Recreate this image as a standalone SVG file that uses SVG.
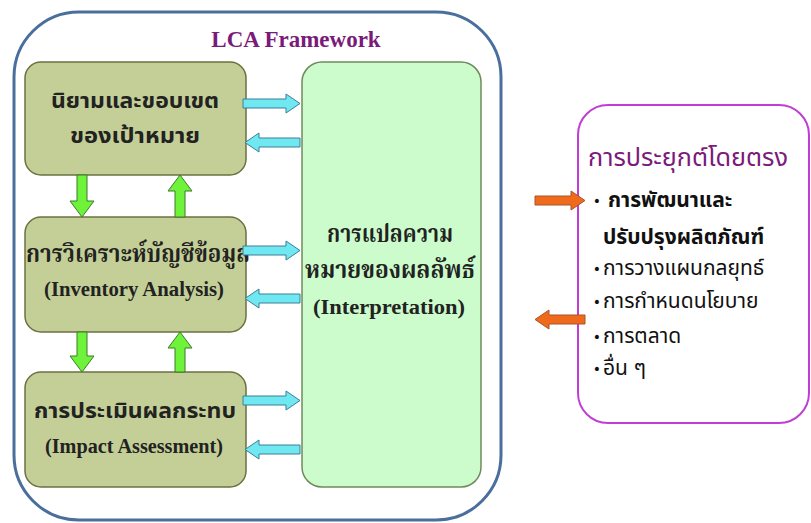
<svg xmlns="http://www.w3.org/2000/svg" width="811" height="523" viewBox="0 0 811 523">
  <style>
    .frame { fill: #ffffff; stroke: #4a6f9c; stroke-width: 3; }
    .stage { fill: #c4cf97; stroke: #6b7142; stroke-width: 1.5; }
    .interp { fill: #ccfccb; stroke: #6f8a5e; stroke-width: 1.5; }
    .apply { fill: #ffffff; stroke: #c03ed4; stroke-width: 2; }
    .cyan { fill: #6fe8f2; stroke: #3a7f96; stroke-width: 1; }
    .green { fill: #6ef23a; stroke: #3c7a28; stroke-width: 1; }
    .orange { fill: #f06a1c; stroke: #a8542a; stroke-width: 1; }
    .title { font-family: "Liberation Serif", serif; font-weight: bold; font-size: 23px; fill: #7a1a7a; }
    .thsans { font-family: "Noto Sans Thai", "Tahoma", "DejaVu Sans", sans-serif; font-weight: bold; font-size: 22px; fill: #222; }
    .thserif { font-family: "Noto Serif Thai", "Liberation Serif", serif; font-weight: bold; font-size: 24px; fill: #222; }
    .en { font-family: "Liberation Serif", serif; font-weight: bold; font-size: 20px; fill: #222; }
    .apptitle { font-family: "Noto Sans Thai", "Tahoma", "DejaVu Sans", sans-serif; font-size: 24px; fill: #7a1a7a; }
    .item { font-family: "Noto Sans Thai", "Tahoma", "DejaVu Sans", sans-serif; font-size: 21px; fill: #111; }
    .item-b { font-weight: bold; }
    .dot { font-family: "DejaVu Sans", sans-serif; font-size: 14px; fill: #111; }
  </style>

  <!-- outer framework boundary -->
  <g id="framework">
    <rect class="frame" x="14" y="12" width="487" height="508" rx="65"/>
    <text class="title" x="296" y="47" text-anchor="middle">LCA Framework</text>
  </g>

  <g id="goal-scope">
    <rect class="stage" x="25" y="62" width="221" height="113" rx="16"/>
    <text class="thsans" x="135" y="108" text-anchor="middle" textLength="168" lengthAdjust="spacingAndGlyphs">นิยามและขอบเขต</text>
    <text class="thsans" x="135" y="143" text-anchor="middle" textLength="130" lengthAdjust="spacingAndGlyphs">ของเป้าหมาย</text>
  </g>

  <g id="inventory">
    <rect class="stage" x="25" y="217" width="221" height="115" rx="16"/>
    <text class="thserif" x="138" y="262" text-anchor="middle" textLength="224" lengthAdjust="spacingAndGlyphs">การวิเคราะห์บัญชีข้อมูล</text>
    <text class="en" x="134" y="296" text-anchor="middle" textLength="180" lengthAdjust="spacingAndGlyphs">(Inventory Analysis)</text>
  </g>

  <g id="impact">
    <rect class="stage" x="25" y="372" width="221" height="115" rx="16"/>
    <text class="thsans" x="135" y="418" text-anchor="middle" textLength="202" lengthAdjust="spacingAndGlyphs">การประเมินผลกระทบ</text>
    <text class="en" x="134" y="453" text-anchor="middle" textLength="178" lengthAdjust="spacingAndGlyphs">(Impact Assessment)</text>
  </g>

  <g id="interpretation">
    <rect class="interp" x="302" y="62" width="179" height="425" rx="20"/>
    <text class="thserif" x="390" y="242" text-anchor="middle" textLength="126" lengthAdjust="spacingAndGlyphs">การแปลความ</text>
    <text class="thserif" x="390" y="278" text-anchor="middle" textLength="170" lengthAdjust="spacingAndGlyphs">หมายของผลลัพธ์</text>
    <text class="en" x="389" y="314" text-anchor="middle" font-size="27" textLength="152" lengthAdjust="spacingAndGlyphs">(Interpretation)</text>
  </g>

  <g id="applications">
    <rect class="apply" x="578" y="105" width="231" height="318" rx="30"/>
    <text class="apptitle" x="588" y="166" textLength="200" lengthAdjust="spacingAndGlyphs">การประยุกต์โดยตรง</text>
    <text class="dot" x="597" y="206" text-anchor="middle">•</text>
    <text class="item item-b" x="608" y="207">การพัฒนาและ</text>
    <text class="item item-b" x="603" y="244">ปรับปรุงผลิตภัณฑ์</text>
    <text class="dot" x="597" y="274" text-anchor="middle">•</text>
    <text class="item" x="603" y="275">การวางแผนกลยุทธ์</text>
    <text class="dot" x="597" y="307" text-anchor="middle">•</text>
    <text class="item" x="603" y="308">การกำหนดนโยบาย</text>
    <text class="dot" x="597" y="342" text-anchor="middle">•</text>
    <text class="item" x="603" y="343">การตลาด</text>
    <text class="dot" x="597" y="374" text-anchor="middle">•</text>
    <text class="item" x="603" y="375">อื่น ๆ</text>
  </g>

  <g id="connectors">
    <!-- stage -> interpretation (right-pointing block arrows) -->
    <path class="cyan" d="M243,99 H286 V94 L300,103.5 L286,113 V108 H243 Z"/>
    <path class="cyan" d="M243,246 H286 V241 L300,250.5 L286,260 V255 H243 Z"/>
    <path class="cyan" d="M243,396 H286 V391 L300,400.5 L286,410 V405 H243 Z"/>
    <!-- interpretation -> stage (left-pointing) -->
    <path class="cyan" d="M300,138 H259 V133 L245,142.5 L259,152 V147 H300 Z"/>
    <path class="cyan" d="M300,294 H259 V289 L245,298.5 L259,308 V303 H300 Z"/>
    <path class="cyan" d="M300,445 H259 V440 L245,449.5 L259,459 V454 H300 Z"/>
    <!-- downward stage flow -->
    <path class="green" d="M77,175 V201 H70 L82,217 L94,201 H87 V175 Z"/>
    <path class="green" d="M77,332 V356 H70 L82,372 L94,356 H87 V332 Z"/>
    <!-- upward feedback -->
    <path class="green" d="M175,217 V191 H168 L180,175 L192,191 H185 V217 Z"/>
    <path class="green" d="M175,372 V348 H168 L180,332 L192,348 H185 V372 Z"/>
    <!-- framework <-> applications -->
    <path class="orange" d="M535,196 H571 V191 L585,200.5 L571,210 V205 H535 Z"/>
    <path class="orange" d="M585,315 H549 V310 L535,319.5 L549,329 V324 H585 Z"/>
  </g>
</svg>
